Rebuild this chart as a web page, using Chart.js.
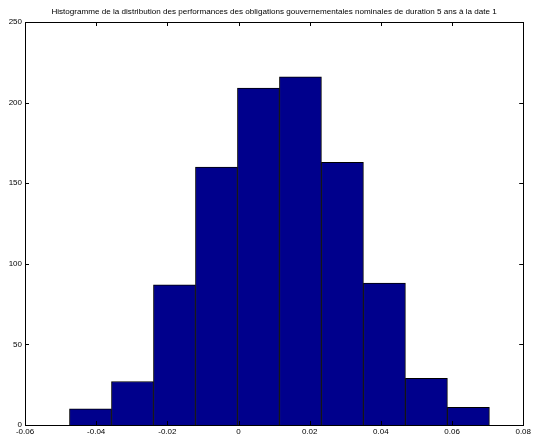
<!DOCTYPE html>
<html>
<head>
<meta charset="utf-8">
<script src="https://cdn.jsdelivr.net/npm/chart.js@4/dist/chart.umd.min.js"></script>
<style>
  html, body { margin: 0; padding: 0; background: #fff; }
  #wrap { width: 533px; height: 441px; }
</style>
</head>
<body>
<div id="wrap"><canvas id="chart"></canvas></div>
<script>
const titleText = 'Histogramme de la distribution des performances des obligations gouvernementales nominales de duration 5 ans à la date 1';

// bin centres and counts
const binCenters = [-0.0416, -0.0298, -0.0180, -0.0062, 0.0056, 0.0174, 0.0292, 0.0410, 0.0528, 0.0646];
const counts = [10, 27, 87, 160, 209, 216, 163, 88, 29, 11];

const xTicks = [-0.06, -0.04, -0.02, 0, 0.02, 0.04, 0.06, 0.08];
const yTicks = [0, 50, 100, 150, 200, 250];

const tickFont = { family: 'Liberation Sans, Arial, sans-serif', size: 8 };

// box round the axes, with matlab style ticks pointing inwards
const boxTicks = {
  id: 'boxTicks',
  afterDatasetsDraw(chart) {
    const { ctx, chartArea: a, scales: { x, y } } = chart;
    ctx.save();
    ctx.strokeStyle = '#000';
    ctx.lineWidth = 1;
    ctx.strokeRect(Math.round(a.left) + 0.5, Math.round(a.top) + 0.5,
      Math.round(a.right - a.left), Math.round(a.bottom - a.top));
    ctx.beginPath();
    xTicks.forEach(v => {
      const px = Math.round(x.getPixelForValue(v)) + 0.5;
      ctx.moveTo(px, a.bottom); ctx.lineTo(px, a.bottom - 4);
      ctx.moveTo(px, a.top); ctx.lineTo(px, a.top + 4);
    });
    yTicks.forEach(v => {
      const py = Math.round(y.getPixelForValue(v)) + 0.5;
      ctx.moveTo(a.left, py); ctx.lineTo(a.left + 4, py);
      ctx.moveTo(a.right, py); ctx.lineTo(a.right - 4, py);
    });
    ctx.stroke();
    ctx.restore();
  }
};

new Chart(document.getElementById('chart'), {
  type: 'bar',
  data: {
    datasets: [{
      data: binCenters.map((c, i) => ({ x: c, y: counts[i] })),
      backgroundColor: '#00008c',
      borderColor: '#000',
      borderWidth: 1,
      barPercentage: 1,
      categoryPercentage: 1,
      grouped: false
    }]
  },
  options: {
    responsive: true,
    maintainAspectRatio: false,
    animation: false,
    layout: { padding: { left: 0, right: 8, top: 0, bottom: 0 } },
    plugins: {
      legend: { display: false },
      tooltip: { enabled: false },
      title: {
        display: true,
        fullSize: false,
        text: titleText,
        color: '#000',
        font: { family: 'Liberation Sans, Arial, sans-serif', size: 8.1, weight: 'normal' },
        padding: { top: 7, bottom: 5.3 }
      }
    },
    scales: {
      x: {
        type: 'linear',
        offset: false,
        min: -0.06,
        max: 0.08,
        afterBuildTicks: s => { s.ticks = xTicks.map(v => ({ value: v })); },
        afterFit: s => { s.height = 16; },
        grid: { display: false, drawTicks: false, offset: false },
        border: { display: false },
        ticks: {
          color: '#000',
          font: tickFont,
          padding: 2,
          maxRotation: 0,
          autoSkip: false,
          callback: v => (Math.abs(v) < 1e-9 ? '0' : (+v).toFixed(2))
        }
      },
      y: {
        min: 0,
        max: 250,
        afterBuildTicks: s => { s.ticks = yTicks.map(v => ({ value: v })); },
        afterFit: s => { s.width = 25; },
        grid: { display: false, drawTicks: false },
        border: { display: false },
        ticks: { color: '#000', font: tickFont, padding: 3 }
      }
    }
  },
  plugins: [boxTicks]
});
</script>
</body>
</html>
